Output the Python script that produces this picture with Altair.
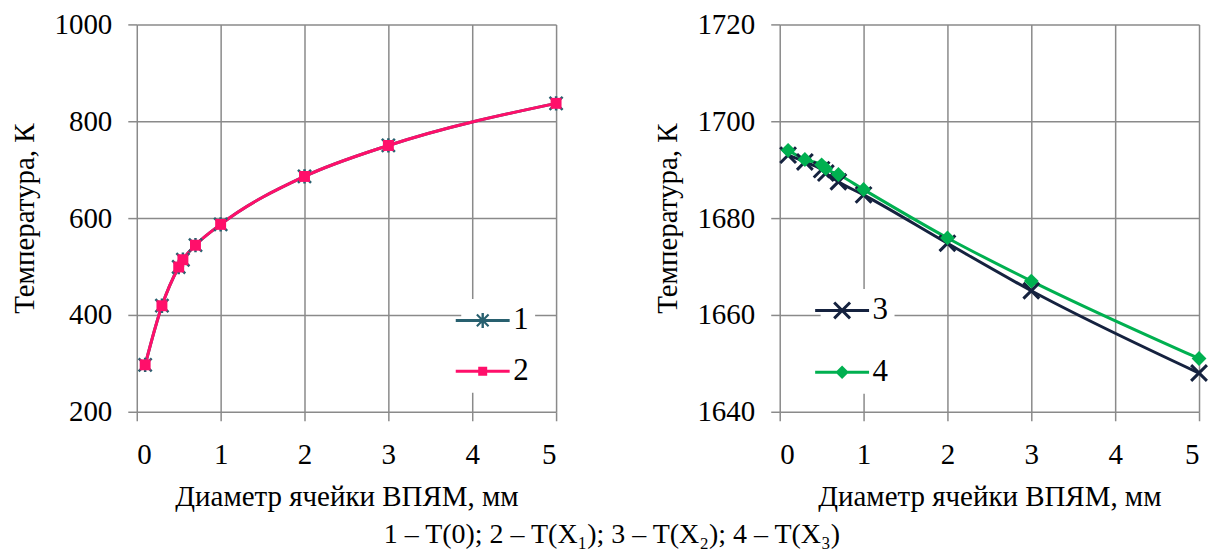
import altair as alt
import pandas as pd

# ---- data ----
diam = [0.1, 0.3, 0.5, 0.55, 0.7, 1, 2, 3, 5]
t_0 = [297, 419, 499, 514, 544, 587, 686, 750, 837]
t_x1 = [297, 419, 499, 514, 544, 587, 686, 750, 837]
t_x2 = [1693.0, 1691.6, 1690.0, 1689.3, 1687.5, 1684.8, 1674.8, 1665.0, 1648.0]
t_x3 = [1694.0, 1692.1, 1691.0, 1690.2, 1689.0, 1685.9, 1675.9, 1667.0, 1651.0]

x_ticks = [0, 1, 2, 3, 4, 5]
y_ticks_left = [200, 400, 600, 800, 1000]
y_ticks_right = [1640, 1660, 1680, 1700, 1720]

x_title = "Диаметр ячейки ВПЯМ, мм"
y_title = "Температура, К"
caption = "1 – T(0); 2 – T(X₁); 3 – T(X₂); 4 – T(X₃)"

TEAL = "#28606f"
PINK = "#ff0f6a"
NAVY = "#15223f"
GREEN = "#00b050"
GRID = "#8a8a8a"
FONT = "Liberation Serif"

# plot marker shapes
ASTER = "M-1,-1L1,1M-1,1L1,-1M0,-1.1V1.1"
XMARK = "M-1,-1L1,1M-1,1L1,-1"

# legend symbol shapes (all filled areas: line segment + marker)
LINE = "M-1.8,-0.1V0.1H1.8V-0.1Z"
XPOLY = ("M0.46,0.6L0.6,0.46L-0.46,-0.6L-0.6,-0.46Z"
         "M0.6,-0.46L0.46,-0.6L-0.6,0.46L-0.46,0.6Z")
XSMALL = ("M0.34,0.44L0.44,0.34L-0.34,-0.44L-0.44,-0.34Z"
          "M0.44,-0.34L0.34,-0.44L-0.44,0.34L-0.34,0.44Z"
          "M-0.08,-0.5V0.5H0.08V-0.5Z")
L1 = LINE + XSMALL
L2 = LINE + "M-0.3,-0.3V0.3H0.3V-0.3Z"
L3 = LINE + XPOLY
L4 = LINE + "M0,-0.45L-0.45,0L0,0.45L0.45,0Z"

dfL = pd.DataFrame({
    "d": diam + diam,
    "t": t_0 + t_x1,
    "s": ["1"] * len(diam) + ["2"] * len(diam),
})
dfR = pd.DataFrame({
    "d": diam + diam,
    "t": t_x2 + t_x3,
    "s": ["3"] * len(diam) + ["4"] * len(diam),
})


def make_legend(lx, ly, rowpad):
    return alt.Legend(
        orient="none", legendX=lx, legendY=ly, title=None,
        fillColor="white", padding=6,
        symbolSize=900, symbolStrokeWidth=0, symbolOpacity=1,
        labelFont=FONT, labelFontSize=31, labelColor="black",
        labelOffset=15, rowPadding=rowpad,
    )


def panel(df, dom, yt, a, b, ca, cb, la, lb, legend, pts_a, pts_b):
    xenc = alt.X("d:Q", scale=alt.Scale(domain=[0, 5], nice=False),
                 axis=alt.Axis(values=x_ticks, title=x_title, format="d"))
    yenc = alt.Y("t:Q", scale=alt.Scale(domain=dom, nice=False, zero=False),
                 axis=alt.Axis(values=yt, title=y_title, format="d"))
    cscale = alt.Scale(domain=[a, b], range=[ca, cb])
    lines = alt.Chart(df).mark_line(interpolate="monotone", strokeWidth=3).encode(
        x=xenc, y=yenc,
        color=alt.Color("s:N", scale=cscale, legend=legend),
    )
    pa = alt.Chart(df).transform_filter(f"datum.s == '{a}'").mark_point(**pts_a).encode(x="d:Q", y="t:Q")
    pb = alt.Chart(df).transform_filter(f"datum.s == '{b}'").mark_point(**pts_b).encode(x="d:Q", y="t:Q")
    # invisible layer that only feeds the legend (kept well inside the plot)
    leg = alt.Chart(df).transform_filter("datum.d == 2").mark_point(
        filled=True, opacity=0, size=900
    ).encode(
        x="d:Q", y="t:Q",
        color=alt.Color("s:N", scale=cscale, legend=legend),
        shape=alt.Shape("s:N", scale=alt.Scale(domain=[a, b], range=[la, lb]), legend=legend),
    )
    return alt.layer(lines, pa, pb, leg).properties(width=420, height=388)


left = panel(
    dfL, [200, 1000], y_ticks_left, "1", "2", TEAL, PINK, L1, L2,
    make_legend(325, 275, 19),
    dict(shape=ASTER, filled=False, size=170, strokeWidth=2.5, color=TEAL, opacity=1),
    dict(shape="square", filled=True, size=120, color=PINK, opacity=1),
)
right = panel(
    dfR, [1640, 1720], y_ticks_right, "3", "4", NAVY, GREEN, L3, L4,
    make_legend(41, 265, 30),
    dict(shape=XMARK, filled=False, size=250, strokeWidth=3, color=NAVY, opacity=1),
    dict(shape="diamond", filled=True, size=220, color=GREEN, opacity=1),
)

chart = alt.hconcat(left, right, spacing=86).resolve_scale(
    color="independent", shape="independent"
).resolve_legend(
    color="independent", shape="independent"
).properties(
    title=alt.TitleParams(text=caption, orient="bottom", anchor="middle", font=FONT,
                          fontSize=28, fontWeight="normal", color="black", offset=9),
    padding={"left": 11, "top": 10, "right": 0, "bottom": 0},
).configure_view(stroke=None).configure_axis(
    labelFont=FONT, labelFontSize=29, labelColor="black",
    titleFont=FONT, titleFontSize=29, titleFontWeight="normal", titleColor="black",
    grid=True, gridColor=GRID, gridWidth=1.5, gridOpacity=1,
    domain=False, tickColor=GRID, tickWidth=1.5, tickSize=9,
).configure_axisX(labelPadding=20, titlePadding=13).configure_axisY(
    labelPadding=16, titlePadding=14
).configure_legend(
    labelFont=FONT
)

chart.save("out.html", embed_options={"renderer": "svg", "actions": False})
